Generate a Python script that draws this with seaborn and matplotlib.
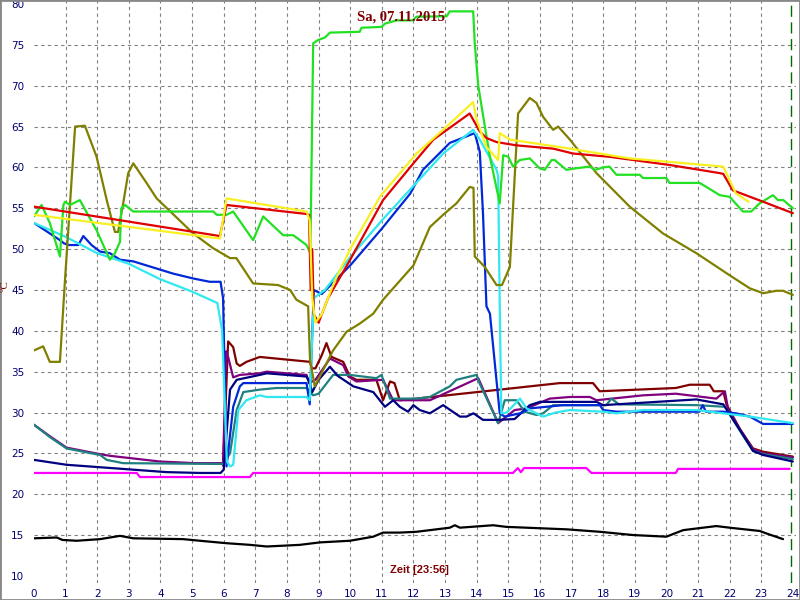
import matplotlib.pyplot as plt
import seaborn as sns
from matplotlib.patches import Rectangle
from matplotlib.ticker import MultipleLocator

# (hour, degC)
lime = [(0.0, 54.0), (0.24, 55.4), (0.5, 53.2), (0.82, 49.1), (0.93, 55.4), (0.98, 55.8), (1.14, 55.4),
        (1.45, 56.0), (1.98, 52.3), (2.4, 48.7), (2.56, 49.5), (2.72, 50.9), (2.76, 55.0), (2.88, 55.4),
        (3.14, 54.6), (5.67, 54.6), (5.78, 54.2), (6.09, 54.2), (6.3, 54.6), (6.93, 51.1), (7.25, 54.0),
        (7.88, 51.7), (8.2, 51.7), (8.62, 50.5), (8.74, 49.5), (8.83, 75.2), (8.99, 75.6), (9.2, 75.9),
        (9.36, 76.5), (10.3, 76.6), (10.36, 77.1), (10.99, 77.2), (11.1, 77.6), (11.47, 78.0), (11.98, 78.0),
        (12.1, 78.45), (13.05, 78.5), (13.15, 79.1), (13.89, 79.1), (13.94, 75.2), (14.05, 70.0),
        (14.26, 65.0), (14.42, 61.3), (14.73, 55.6), (14.84, 61.5), (15.0, 61.3), (15.15, 60.1),
        (15.36, 60.9), (15.68, 61.1), (15.99, 59.9), (16.15, 59.7), (16.37, 60.9), (16.47, 60.9),
        (16.84, 59.7), (17.16, 59.9), (17.58, 60.1), (17.74, 59.7), (18.0, 60.0), (18.2, 60.1),
        (18.42, 59.1), (19.16, 59.1), (19.26, 58.7), (20.0, 58.7), (20.1, 58.1), (21.05, 58.1),
        (21.27, 57.6), (21.69, 56.6), (22.0, 56.4), (22.42, 54.6), (22.68, 54.6), (22.95, 55.6),
        (23.37, 56.6), (23.53, 56.0), (23.7, 56.0), (24.0, 55.0)]
red = [(0.0, 55.2), (5.88, 51.6), (6.09, 55.4), (8.62, 54.3), (8.7, 54.2), (8.75, 45.0), (8.8, 50.0),
       (8.85, 42.0), (9.0, 41.0), (9.3, 44.0), (10.0, 48.7), (11.04, 56.0), (12.0, 60.5), (12.63, 63.4),
       (13.78, 66.6), (14.1, 64.4), (14.31, 63.6), (14.63, 63.1), (15.26, 62.7), (16.42, 62.3),
       (17.05, 61.7), (18.2, 61.3), (20.1, 60.3), (21.69, 59.3), (21.8, 59.2), (22.1, 57.2),
       (23.06, 55.8), (24.0, 54.4)]
yellow = [(0.0, 54.2), (5.88, 51.3), (6.09, 56.2), (8.62, 54.6), (8.72, 53.5), (8.8, 44.0), (8.9, 41.0),
          (9.1, 42.0), (9.5, 46.0), (10.0, 50.0), (10.94, 56.4), (12.1, 61.7), (13.05, 65.0),
          (13.89, 68.0), (14.0, 65.8), (14.31, 62.5), (14.68, 60.9), (14.73, 64.2), (15.05, 63.4),
          (15.58, 63.1), (16.95, 62.3), (18.84, 61.1), (21.8, 60.1), (22.2, 56.8), (22.6, 55.8)]
cyan = [(0.0, 53.2), (1.0, 51.5), (2.0, 49.5), (3.0, 48.2), (4.0, 46.3), (5.0, 44.8), (5.8, 43.4),
        (5.95, 40.0), (6.1, 24.0), (6.2, 23.4), (6.3, 23.6), (6.46, 30.3), (6.72, 31.5), (7.14, 32.1),
        (7.36, 31.9), (8.62, 31.9), (8.72, 31.5), (8.85, 44.0), (9.2, 45.0), (10.0, 49.0), (11.0, 53.5),
        (11.78, 56.8), (12.94, 61.7), (13.89, 64.6), (14.1, 63.4), (14.63, 59.7), (14.68, 58.9),
        (14.73, 43.0), (14.78, 29.9), (14.95, 30.0), (15.37, 31.7), (15.58, 30.5), (16.1, 29.5),
        (16.5, 30.0), (16.95, 30.3), (18.0, 30.1), (18.42, 29.9), (19.26, 30.3), (20.95, 30.3),
        (21.8, 29.9), (22.64, 29.5), (24.0, 28.7)]
blue = [(0.0, 53.2), (0.82, 51.1), (0.95, 50.7), (1.1, 50.5), (1.4, 50.5), (1.56, 51.6), (1.82, 50.5),
        (2.09, 49.7), (2.4, 49.5), (2.72, 48.7), (3.14, 48.5), (4.4, 47.0), (5.04, 46.4), (5.56, 46.0),
        (5.9, 46.0), (5.98, 44.0), (6.09, 23.4), (6.3, 30.7), (6.51, 33.2), (6.62, 33.6), (8.62, 33.6),
        (8.72, 31.0), (8.85, 45.0), (9.1, 44.5), (10.0, 48.0), (11.0, 52.5), (11.9, 56.8), (12.3, 59.7),
        (13.15, 63.0), (13.94, 64.2), (14.1, 61.9), (14.2, 54.4), (14.31, 43.0), (14.42, 42.1),
        (14.73, 29.9), (14.89, 29.5), (15.37, 29.9), (15.68, 30.5), (16.73, 30.9), (17.9, 30.9),
        (18.0, 30.3), (18.42, 30.1), (18.84, 30.1), (21.05, 30.1), (21.15, 30.9), (21.25, 30.1),
        (21.8, 30.1), (22.2, 29.9), (22.64, 29.5), (23.06, 28.6), (24.0, 28.6)]
olive = [(0.0, 37.6), (0.29, 38.1), (0.5, 36.2), (0.82, 36.2), (0.98, 46.2), (1.3, 65.0), (1.61, 65.1),
         (1.98, 61.3), (2.3, 56.0), (2.56, 52.1), (2.66, 52.1), (2.82, 55.6), (2.98, 59.3), (3.14, 60.5),
         (3.56, 58.1), (3.88, 56.2), (5.04, 51.9), (5.67, 50.1), (6.2, 48.9), (6.4, 48.9), (6.93, 45.8),
         (7.72, 45.6), (8.1, 45.0), (8.3, 43.8), (8.67, 43.0), (8.73, 36.4), (8.88, 33.2), (9.04, 34.4),
         (9.46, 37.6), (9.89, 39.9), (10.31, 40.9), (10.73, 42.1), (11.04, 43.8), (12.0, 48.0),
         (12.52, 52.7), (12.94, 54.2), (13.36, 55.6), (13.78, 57.6), (13.9, 57.5), (13.94, 49.1),
         (14.26, 47.8), (14.63, 45.6), (14.8, 45.6), (15.05, 47.8), (15.31, 66.6), (15.68, 68.5),
         (15.89, 67.9), (16.1, 66.2), (16.42, 64.6), (16.58, 65.0), (16.95, 63.4), (17.79, 59.3),
         (18.84, 55.2), (19.9, 51.9), (20.95, 49.5), (22.0, 46.8), (22.64, 45.2), (23.06, 44.6),
         (23.48, 44.9), (23.69, 44.9), (24.0, 44.4)]
maroon = [(5.98, 23.5), (6.14, 38.7), (6.3, 38.0), (6.41, 36.0), (6.51, 35.7), (6.72, 36.2), (7.14, 36.8),
          (8.73, 36.2), (8.78, 35.4), (8.9, 35.4), (9.1, 37.0), (9.25, 38.5), (9.41, 36.8), (9.78, 36.2),
          (9.99, 34.4), (10.2, 34.0), (10.83, 34.0), (11.04, 31.5), (11.26, 33.8), (11.4, 33.6),
          (11.57, 31.5), (12.1, 31.7), (14.73, 32.8), (16.63, 33.6), (17.68, 33.6), (17.89, 32.6),
          (20.3, 33.0), (20.74, 33.4), (21.37, 33.4), (21.5, 32.6), (21.8, 32.6), (21.9, 31.0),
          (22.32, 28.0), (22.74, 25.6), (23.06, 25.2), (24.0, 24.6)]
purple = [(0.0, 28.5), (0.5, 27.1), (1.03, 25.7), (1.56, 25.3), (2.09, 24.9), (2.4, 24.7), (3.98, 24.0),
          (5.1, 23.8), (5.98, 23.8), (6.08, 37.5), (6.14, 36.8), (6.3, 34.3), (6.51, 34.6), (7.14, 34.8),
          (7.36, 35.0), (8.62, 34.6), (8.7, 33.6), (8.9, 34.0), (9.36, 36.6), (9.78, 35.8), (9.94, 34.4),
          (10.2, 33.8), (11.04, 34.0), (11.36, 31.5), (12.52, 31.5), (14.05, 34.2), (14.68, 28.7),
          (15.2, 30.3), (15.58, 30.5), (16.31, 31.7), (16.95, 31.9), (17.58, 31.9), (17.79, 31.5),
          (19.26, 32.1), (20.3, 32.3), (21.58, 31.7), (21.85, 32.6), (21.95, 30.5), (22.32, 28.0),
          (22.74, 25.5), (23.06, 25.0), (24.0, 24.5)]
teal = [(0.0, 28.5), (0.5, 27.0), (1.03, 25.6), (1.56, 25.2), (2.09, 24.8), (2.3, 24.2), (2.82, 23.8),
        (5.98, 23.7), (6.2, 25.0), (6.41, 30.3), (6.62, 32.5), (7.14, 32.8), (7.67, 33.0), (8.62, 33.0),
        (8.83, 32.1), (9.0, 32.3), (9.46, 34.6), (9.99, 34.6), (10.83, 34.2), (10.99, 34.6), (11.26, 31.7),
        (12.1, 31.7), (12.52, 31.9), (13.15, 33.2), (13.36, 34.0), (13.78, 34.4), (14.0, 34.6),
        (14.1, 33.5), (14.68, 28.7), (14.89, 31.5), (15.26, 31.5), (15.52, 30.1), (15.89, 29.7),
        (16.1, 29.9), (16.42, 30.9), (18.1, 30.9), (18.26, 31.7), (18.5, 31.0), (20.95, 30.9),
        (21.85, 30.7), (22.32, 27.8), (22.74, 25.3), (23.06, 24.9), (24.0, 24.3)]
navy = [(0.0, 24.2), (1.03, 23.6), (3.14, 23.0), (4.2, 22.7), (5.25, 22.6), (5.9, 22.6), (6.0, 23.0),
        (6.2, 32.8), (6.41, 34.0), (7.14, 34.6), (7.36, 34.8), (8.62, 34.4), (8.7, 33.8), (8.8, 32.5),
        (9.0, 34.0), (9.36, 35.6), (9.6, 34.5), (10.1, 33.2), (10.73, 32.5), (11.1, 30.7), (11.36, 31.5),
        (11.57, 30.7), (11.83, 30.1), (12.0, 30.9), (12.2, 30.3), (12.52, 29.9), (12.94, 30.9),
        (13.47, 29.5), (13.68, 29.5), (13.9, 29.9), (14.2, 29.1), (14.68, 29.1), (15.2, 29.2),
        (15.68, 30.9), (16.0, 31.3), (17.79, 31.3), (18.0, 30.9), (20.95, 31.6), (21.8, 31.0),
        (22.32, 27.9), (22.74, 25.3), (23.06, 24.8), (24.0, 24.0)]
magenta = [(0.0, 22.6), (3.25, 22.6), (3.35, 22.1), (6.83, 22.1), (6.93, 22.6), (15.15, 22.6), (15.3, 23.2),
           (15.4, 22.7), (15.5, 23.2), (17.47, 23.2), (17.63, 22.6), (20.3, 22.6), (20.37, 23.1),
           (23.9, 23.1)]
black = [(0.0, 14.6), (0.72, 14.7), (0.9, 14.4), (1.35, 14.3), (2.09, 14.5), (2.72, 14.9), (3.14, 14.6),
         (4.72, 14.5), (5.25, 14.3), (6.09, 14.0), (6.83, 13.8), (7.36, 13.6), (7.9, 13.7), (8.41, 13.8),
         (9.04, 14.1), (9.99, 14.3), (10.73, 14.8), (11.04, 15.3), (11.57, 15.3), (12.1, 15.4),
         (13.15, 15.9), (13.31, 16.2), (13.47, 15.9), (14.52, 16.2), (14.94, 16.0), (16.84, 15.7),
         (17.89, 15.4), (18.95, 15.0), (20.0, 14.8), (20.53, 15.6), (21.58, 16.1), (22.0, 15.9),
         (22.95, 15.5), (23.16, 15.2), (23.69, 14.5)]

series = [
    (black, "#000000"), (magenta, "#ff00ff"), (maroon, "#800000"), (purple, "#800080"),
    (teal, "#208080"), (navy, "#000080"), (blue, "#0028d8"), (cyan, "#30e8f0"),
    (olive, "#808000"), (lime, "#22e022"), (red, "#e00000"), (yellow, "#f8f020"),
]
now_hour = 23.95

sns.set_style("white")
plt.rcParams["font.family"] = ["DejaVu Sans"]

fig = plt.figure(figsize=(8, 6), dpi=100)
ax = fig.add_axes([34 / 800, 17 / 600, 762 / 800, 582 / 600])
ax.set_xlim(0, 24.1)
ax.set_ylim(9.13, 80.37)

# dashed grid, no line on the outer values
for h in range(1, 24):
    ax.axvline(h, color="#808080", lw=0.8, ls=(0, (3, 3)), zorder=0)
for t in range(15, 80, 5):
    ax.axhline(t, color="#808080", lw=0.8, ls=(0, (3, 3)), zorder=0)
ax.axvline(now_hour, color="#006a00", lw=1.0, ls=(0, (8, 4)), zorder=1)

for pts, col in series:
    sns.lineplot(x=[p[0] for p in pts], y=[p[1] for p in pts], color=col, lw=1.6,
                 estimator=None, sort=False, ax=ax)

for s in ax.spines.values():
    s.set_visible(False)

ax.set_xticks(range(0, 25))
ax.xaxis.set_minor_locator(MultipleLocator(0.1))
ax.set_yticks(range(10, 81, 5))
ax.yaxis.set_minor_locator(MultipleLocator(1))
ax.tick_params(axis="x", which="major", direction="inout", length=9, width=0.9, color="black",
               labelcolor="#000070", labelsize=7.5, pad=0)
ax.tick_params(axis="x", which="minor", direction="in", length=4, width=0.8, color="black")
ax.tick_params(axis="y", which="major", direction="out", length=6.5, width=0.9, color="black",
               labelcolor="#000070", labelsize=7.5, pad=0.5)
ax.tick_params(axis="y", which="minor", direction="out", length=3.5, width=0.8, color="black")
ax.set_xlabel("")
ax.set_ylabel("")

fig.text(401 / 800, 1 - 17 / 600, "Sa, 07.11.2015", ha="center", va="center", color="#800000",
         fontsize=10.5, fontweight="bold", family="Liberation Serif")
fig.text(419 / 800, 1 - 570 / 600, "Zeit [23:56]", ha="center", va="center", color="#800000",
         fontsize=8, fontweight="bold", family="Liberation Sans")
fig.text(5 / 800, 1 - 286 / 600, "°C", rotation=90, ha="center", va="center", color="#800000",
         fontsize=8, family="Liberation Serif")

fig.add_artist(Rectangle((0, 0), 1, 1, transform=fig.transFigure, fill=False,
                         edgecolor="#888888", lw=2))

fig.savefig("out.png", dpi=100)
